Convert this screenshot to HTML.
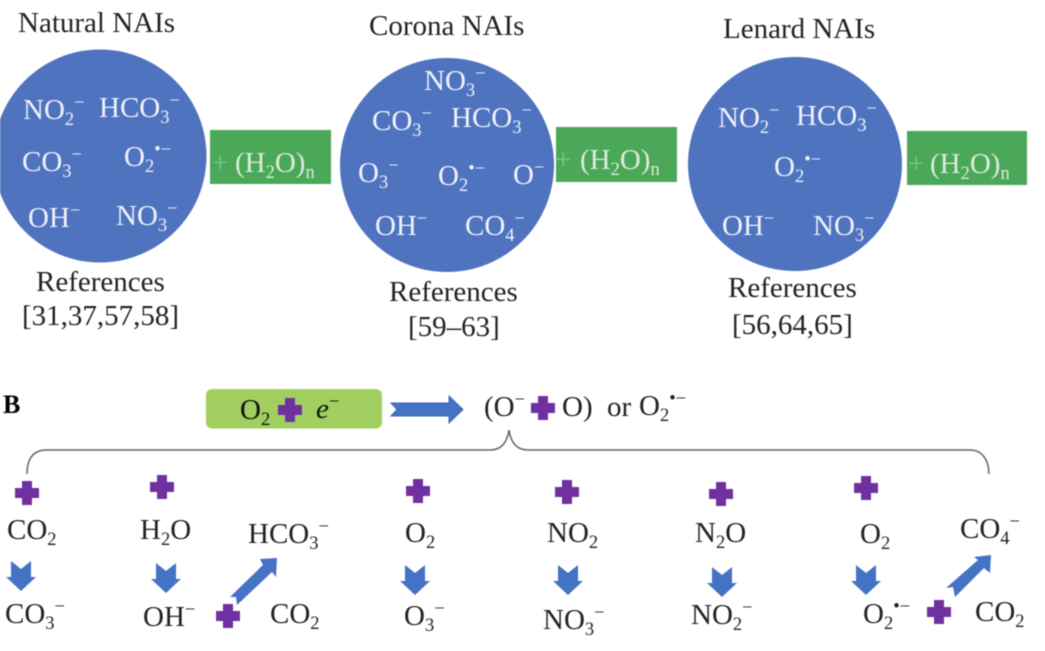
<!DOCTYPE html>
<html><head><meta charset="utf-8"><style>
html,body{margin:0;padding:0;background:#fff;width:1045px;height:651px;overflow:hidden}
svg{display:block;filter:blur(.45px)}
text{font-family:"Liberation Serif",serif;font-size:29px;fill:#222}
.w text,text.w{fill:#eef2fa}
.g text{fill:#dcebdd}
.g text.f{fill:#7fc48c}
tspan.s{font-size:18.5px}
</style></head><body>
<svg width="1045" height="651" viewBox="0 0 1045 651" xmlns="http://www.w3.org/2000/svg">
<defs>
<path id="p" d="M-5-12H5V-5H12V5H5V12H-5V5H-12V-5H-5Z" fill="#7030a0"/>
<path id="d" d="M-10 0L0 8L10 0V16H15L0 30L-15 16H-10Z" fill="#4472c4"/>
</defs>
<circle cx="100" cy="156" r="106.5" fill="#4f73bf"/>
<circle cx="447" cy="165" r="107" fill="#4f73bf"/>
<circle cx="795" cy="164" r="107" fill="#4f73bf"/>
<rect x="210" y="130" width="121" height="54" fill="#4aa858"/>
<rect x="556" y="127" width="121" height="55" fill="#4aa858"/>
<rect x="907" y="131" width="120" height="54" fill="#4aa858"/>

<text x="18" y="32">Natural NAIs</text>
<text x="369" y="35">Corona NAIs</text>
<text x="723" y="38">Lenard NAIs</text>
<text x="36" y="291">References</text>
<text x="22" y="325">[31,37,57,58]</text>
<text x="389" y="301">References</text>
<text x="408" y="336">[59–63]</text>
<text x="728" y="297">References</text>
<text x="732" y="334">[56,64,65]</text>

<g class="w">
<text x="23" y="119">NO<tspan class="s" dy="6">2</tspan><tspan class="s" dy="-17">−</tspan></text>
<text x="99" y="117">HCO<tspan class="s" dy="6">3</tspan><tspan class="s" dy="-17">−</tspan></text>
<text x="22" y="171">CO<tspan class="s" dy="6">3</tspan><tspan class="s" dy="-17">−</tspan></text>
<text x="124" y="166">O<tspan class="s" dy="6">2</tspan><tspan class="s" dy="-17">•−</tspan></text>
<text x="28" y="227">OH<tspan class="s" dy="-11">−</tspan></text>
<text x="116" y="225">NO<tspan class="s" dy="6">3</tspan><tspan class="s" dy="-17">−</tspan></text>

<text x="424" y="90">NO<tspan class="s" dy="6">3</tspan><tspan class="s" dy="-17">−</tspan></text>
<text x="372" y="130">CO<tspan class="s" dy="6">3</tspan><tspan class="s" dy="-17">−</tspan></text>
<text x="451" y="127">HCO<tspan class="s" dy="6">3</tspan><tspan class="s" dy="-17">−</tspan></text>
<text x="358" y="182">O<tspan class="s" dy="6">3</tspan><tspan class="s" dy="-17">−</tspan></text>
<text x="438" y="185">O<tspan class="s" dy="6">2</tspan><tspan class="s" dy="-17">•−</tspan></text>
<text x="513" y="184">O<tspan class="s" dy="-11">−</tspan></text>
<text x="375" y="235">OH<tspan class="s" dy="-11">−</tspan></text>
<text x="465" y="235">CO<tspan class="s" dy="6">4</tspan><tspan class="s" dy="-17">−</tspan></text>

<text x="718" y="127">NO<tspan class="s" dy="6">2</tspan><tspan class="s" dy="-17">−</tspan></text>
<text x="796" y="125">HCO<tspan class="s" dy="6">3</tspan><tspan class="s" dy="-17">−</tspan></text>
<text x="774" y="176">O<tspan class="s" dy="6">2</tspan><tspan class="s" dy="-17">•−</tspan></text>
<text x="722" y="235">OH<tspan class="s" dy="-11">−</tspan></text>
<text x="813" y="235">NO<tspan class="s" dy="6">3</tspan><tspan class="s" dy="-17">−</tspan></text>
</g>

<g class="g">
<text class="f" x="212" y="172">+</text><text x="235" y="172">(H<tspan class="s" dy="6">2</tspan><tspan dy="-6">O)</tspan><tspan class="s" dy="6">n</tspan></text>
<text class="f" x="555" y="169">+</text><text x="580" y="169">(H<tspan class="s" dy="6">2</tspan><tspan dy="-6">O)</tspan><tspan class="s" dy="6">n</tspan></text>
<text class="f" x="908" y="173">+</text><text x="930" y="173">(H<tspan class="s" dy="6">2</tspan><tspan dy="-6">O)</tspan><tspan class="s" dy="6">n</tspan></text>
</g>

<text x="3" y="413" style="font-weight:bold;font-size:26px;fill:#000">B</text>
<rect x="206" y="389" width="176" height="39.500" rx="6" fill="#a0cf60"/>
<text x="240" y="419" style="fill:#111">O<tspan class="s" dy="6">2</tspan></text>
<use href="#p" x="290" y="410"/>
<text x="316" y="418" style="font-style:italic;fill:#111">e<tspan class="s" dy="-11" style="font-style:normal">−</tspan></text>
<path d="M391 403H449V396L463 409.500L449 423V416H391L397 409.500Z" fill="#4472c4" stroke="#3c68b4"/>
<text x="484" y="416">(O<tspan class="s" dy="-11">−</tspan></text>
<use href="#p" x="543" y="408"/>
<text x="562" y="416">O)</text>
<text x="607" y="416">or</text>
<text x="639" y="415">O<tspan class="s" dy="6">2</tspan><tspan class="s" dy="-17">•−</tspan></text>

<path d="M27 474C27 458 34 450 46 450H490C500 450 507 444 509 430C511 444 518 450 528 450H970C982 450 989 460 989 474" fill="none" stroke="#666" stroke-width="1.500"/>

<use href="#p" x="27" y="493"/><use href="#p" x="162" y="487"/><use href="#p" x="418" y="491"/>
<use href="#p" x="567" y="492"/><use href="#p" x="721" y="494"/><use href="#p" x="866" y="488"/>
<use href="#p" x="228" y="616"/><use href="#p" x="939" y="612"/>

<text x="7" y="539">CO<tspan class="s" dy="6">2</tspan></text>
<text x="140" y="539">H<tspan class="s" dy="6">2</tspan><tspan dy="-6">O</tspan></text>
<text x="248" y="543">HCO<tspan class="s" dy="6">3</tspan><tspan class="s" dy="-17">−</tspan></text>
<text x="405" y="542">O<tspan class="s" dy="6">2</tspan></text>
<text x="547" y="542">NO<tspan class="s" dy="6">2</tspan></text>
<text x="695" y="542">N<tspan class="s" dy="6">2</tspan><tspan dy="-6">O</tspan></text>
<text x="860" y="543">O<tspan class="s" dy="6">2</tspan></text>
<text x="960" y="538">CO<tspan class="s" dy="6">4</tspan><tspan class="s" dy="-17">−</tspan></text>

<text x="5" y="623">CO<tspan class="s" dy="6">3</tspan><tspan class="s" dy="-17">−</tspan></text>
<text x="143" y="626">OH<tspan class="s" dy="-11">−</tspan></text>
<text x="270" y="623">CO<tspan class="s" dy="6">2</tspan></text>
<text x="404" y="625">O<tspan class="s" dy="6">3</tspan><tspan class="s" dy="-17">−</tspan></text>
<text x="543" y="629">NO<tspan class="s" dy="6">3</tspan><tspan class="s" dy="-17">−</tspan></text>
<text x="691" y="624">NO<tspan class="s" dy="6">2</tspan><tspan class="s" dy="-17">−</tspan></text>
<text x="863" y="623">O<tspan class="s" dy="6">2</tspan><tspan class="s" dy="-17">•−</tspan></text>
<text x="975" y="621">CO<tspan class="s" dy="6">2</tspan></text>

<use href="#d" x="21" y="561"/><use href="#d" x="166" y="563"/><use href="#d" x="415" y="565"/>
<use href="#d" x="568" y="565"/><use href="#d" x="722" y="567"/><use href="#d" x="866" y="565"/>

<polygon points="277,558 276,577 272,572 237,605 236,597 230,597 263,565 260,559" fill="#4472c4"/>
<polygon points="991,555 990,573 984,568 955,597 953,587 946,588 978,560 974,557" fill="#4472c4"/>
</svg>
</body></html>
